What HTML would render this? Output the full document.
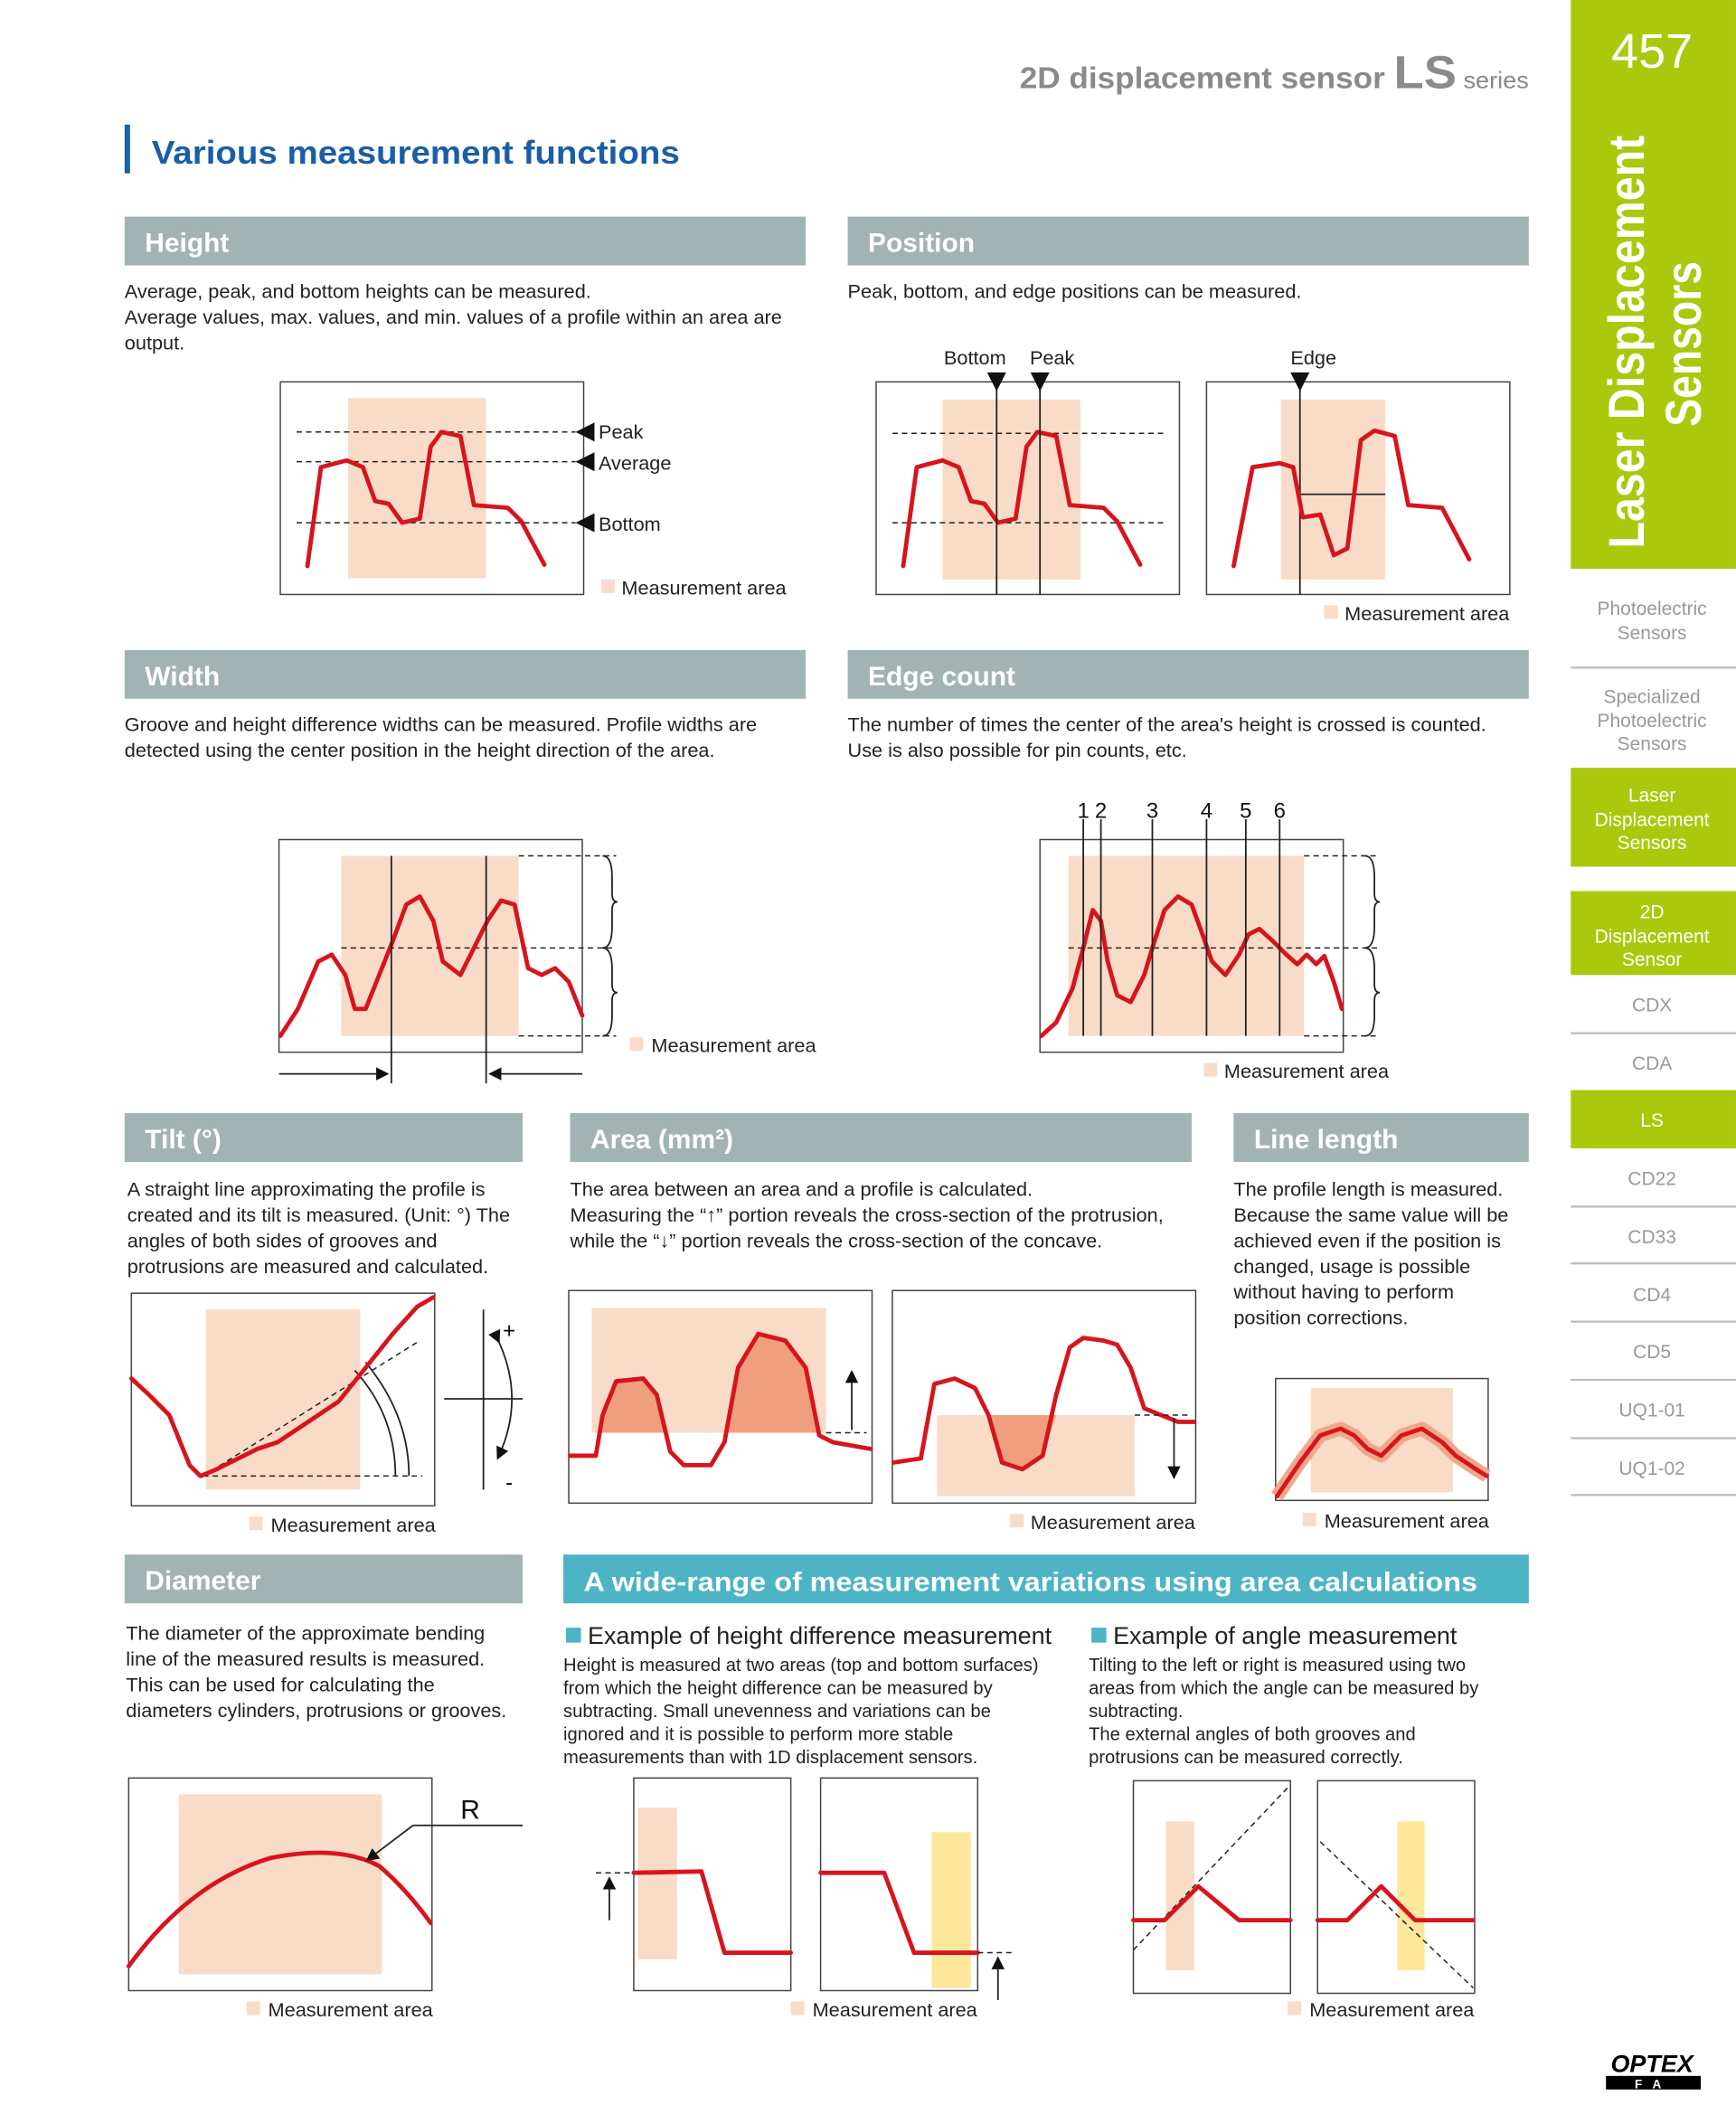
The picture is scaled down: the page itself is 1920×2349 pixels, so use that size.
<!DOCTYPE html>
<html><head><meta charset="utf-8"><style>
html,body{margin:0;padding:0;background:#fff;}
svg{display:block;font-family:"Liberation Sans",Arial,sans-serif;}
.h{fill:#fff;font-weight:bold;font-size:20px;}
.d{fill:#222;font-size:14.5px;}
.s{fill:#222;font-size:13.5px;}
.lg{fill:#222;font-size:14.5px;}
.c{fill:none;stroke:#d7141e;stroke-width:3.2;stroke-linejoin:round;stroke-linecap:round;}
.b{fill:#fff;stroke:#444;stroke-width:1;}
.p{fill:#f9dcc8;}
.y{fill:#fde79a;}
.dl{stroke:#222;stroke-width:1;stroke-dasharray:4 3;fill:none;}
.l{stroke:#222;stroke-width:1.2;fill:none;}
.m{fill:#999;font-size:14px;text-anchor:middle;}
.sep{stroke:#bbb;stroke-width:1.5;}
</style></head><body>
<svg width="1920" height="2349" viewBox="0 0 1282 1568.5" xmlns="http://www.w3.org/2000/svg">
<defs><marker id="ah" markerWidth="8" markerHeight="8" refX="6" refY="4" orient="auto"><path d="M0,0 L8,4 L0,8z" fill="#111"/></marker></defs>
<!-- header -->
<text x="753" y="65" textLength="376" lengthAdjust="spacingAndGlyphs" fill="#8a8a8a" font-weight="bold" font-size="22">2D displacement sensor <tspan font-size="34">LS</tspan><tspan font-size="17" font-weight="normal"> series</tspan></text>
<rect x="92" y="92" width="4" height="36" fill="#1a5ea8"/>
<text x="112" y="121" textLength="390" lengthAdjust="spacingAndGlyphs" fill="#1a5ea8" font-weight="bold" font-size="24">Various measurement functions</text>

<!-- sidebar -->
<rect x="1160" y="0" width="122" height="420" fill="#acc80c"/>
<text x="1220" y="50" text-anchor="middle" fill="#fff" font-size="36">457</text>
<text transform="translate(1214,405) rotate(-90)" textLength="305" lengthAdjust="spacingAndGlyphs" fill="#fff" font-weight="bold" font-size="37">Laser Displacement</text>
<text transform="translate(1256,315) rotate(-90)" textLength="122" lengthAdjust="spacingAndGlyphs" fill="#fff" font-weight="bold" font-size="37">Sensors</text>
<text class="m" x="1220" y="454">Photoelectric</text><text class="m" x="1220" y="472">Sensors</text>
<line class="sep" x1="1160" y1="493" x2="1282" y2="493"/>
<text class="m" x="1220" y="519">Specialized</text><text class="m" x="1220" y="537">Photoelectric</text><text class="m" x="1220" y="554">Sensors</text>
<rect x="1160" y="567" width="122" height="73" fill="#acc80c"/>
<text class="m" x="1220" y="592" style="fill:#fff">Laser</text><text class="m" x="1220" y="610" style="fill:#fff">Displacement</text><text class="m" x="1220" y="627" style="fill:#fff">Sensors</text>
<rect x="1160" y="658" width="122" height="62" fill="#acc80c"/>
<text class="m" x="1220" y="678" style="fill:#fff">2D</text><text class="m" x="1220" y="696" style="fill:#fff">Displacement</text><text class="m" x="1220" y="713" style="fill:#fff">Sensor</text>
<text class="m" x="1220" y="747">CDX</text><line class="sep" x1="1160" y1="763" x2="1282" y2="763"/>
<text class="m" x="1220" y="790">CDA</text>
<rect x="1160" y="805" width="122" height="43" fill="#acc80c"/><text class="m" x="1220" y="832" style="fill:#fff">LS</text>
<text class="m" x="1220" y="875">CD22</text><line class="sep" x1="1160" y1="891" x2="1282" y2="891"/>
<text class="m" x="1220" y="918">CD33</text><line class="sep" x1="1160" y1="933" x2="1282" y2="933"/>
<text class="m" x="1220" y="961">CD4</text><line class="sep" x1="1160" y1="976" x2="1282" y2="976"/>
<text class="m" x="1220" y="1003">CD5</text><line class="sep" x1="1160" y1="1019" x2="1282" y2="1019"/>
<text class="m" x="1220" y="1046">UQ1-01</text><line class="sep" x1="1160" y1="1062" x2="1282" y2="1062"/>
<text class="m" x="1220" y="1089">UQ1-02</text><line class="sep" x1="1160" y1="1104" x2="1282" y2="1104"/>

<!-- section headers -->
<g fill="#a1b4b3">
<rect x="92" y="160" width="503" height="36"/><rect x="626" y="160" width="503" height="36"/>
<rect x="92" y="480" width="503" height="36"/><rect x="626" y="480" width="503" height="36"/>
<rect x="92" y="822" width="294" height="36"/><rect x="421" y="822" width="459" height="36"/><rect x="911" y="822" width="218" height="36"/>
<rect x="92" y="1148" width="294" height="36"/>
</g>
<rect x="416" y="1148" width="713" height="36" fill="#4cb4c4"/>
<text class="h" x="107" y="186">Height</text><text class="h" x="641" y="186">Position</text>
<text class="h" x="107" y="506">Width</text><text class="h" x="641" y="506">Edge count</text>
<text class="h" x="107" y="848">Tilt (°)</text><text class="h" x="436" y="848">Area (mm²)</text><text class="h" x="926" y="848">Line length</text>
<text class="h" x="107" y="1174">Diameter</text><text class="h" x="431" y="1175" textLength="660" lengthAdjust="spacingAndGlyphs">A wide-range of measurement variations using area calculations</text>

<!-- descriptions -->
<text class="d" x="92" y="220">Average, peak, and bottom heights can be measured.</text>
<text class="d" x="92" y="239">Average values, max. values, and min. values of a profile within an area are</text>
<text class="d" x="92" y="258">output.</text>
<text class="d" x="626" y="220">Peak, bottom, and edge positions can be measured.</text>
<text class="d" x="92" y="540">Groove and height difference widths can be measured. Profile widths are</text>
<text class="d" x="92" y="559">detected using the center position in the height direction of the area.</text>
<text class="d" x="626" y="540">The number of times the center of the area's height is crossed is counted.</text>
<text class="d" x="626" y="559">Use is also possible for pin counts, etc.</text>
<text class="d" x="94" y="883">A straight line approximating the profile is</text>
<text class="d" x="94" y="902">created and its tilt is measured. (Unit: °) The</text>
<text class="d" x="94" y="921">angles of both sides of grooves and</text>
<text class="d" x="94" y="940">protrusions are measured and calculated.</text>
<text class="d" x="421" y="883">The area between an area and a profile is calculated.</text>
<text class="d" x="421" y="902">Measuring the “↑” portion reveals the cross-section of the protrusion,</text>
<text class="d" x="421" y="921">while the “↓” portion reveals the cross-section of the concave.</text>
<text class="d" x="911" y="883">The profile length is measured.</text>
<text class="d" x="911" y="902">Because the same value will be</text>
<text class="d" x="911" y="921">achieved even if the position is</text>
<text class="d" x="911" y="940">changed, usage is possible</text>
<text class="d" x="911" y="959">without having to perform</text>
<text class="d" x="911" y="978">position corrections.</text>
<text class="d" x="93" y="1211">The diameter of the approximate bending</text>
<text class="d" x="93" y="1230">line of the measured results is measured.</text>
<text class="d" x="93" y="1249">This can be used for calculating the</text>
<text class="d" x="93" y="1268">diameters cylinders, protrusions or grooves.</text>
<rect x="418" y="1202" width="11" height="11" fill="#4cb4c4"/>
<text x="434" y="1214" font-size="18" fill="#222">Example of height difference measurement</text>
<text class="s" x="416" y="1234">Height is measured at two areas (top and bottom surfaces)</text>
<text class="s" x="416" y="1251">from which the height difference can be measured by</text>
<text class="s" x="416" y="1268">subtracting. Small unevenness and variations can be</text>
<text class="s" x="416" y="1285">ignored and it is possible to perform more stable</text>
<text class="s" x="416" y="1302">measurements than with 1D displacement sensors.</text>
<rect x="806" y="1202" width="11" height="11" fill="#4cb4c4"/>
<text x="822" y="1214" font-size="18" fill="#222">Example of angle measurement</text>
<text class="s" x="804" y="1234">Tilting to the left or right is measured using two</text>
<text class="s" x="804" y="1251">areas from which the angle can be measured by</text>
<text class="s" x="804" y="1268">subtracting.</text>
<text class="s" x="804" y="1285">The external angles of both grooves and</text>
<text class="s" x="804" y="1302">protrusions can be measured correctly.</text>

<!-- Height chart -->
<rect class="b" x="207" y="282" width="224" height="157"/>
<rect class="p" x="257" y="294" width="102" height="133"/>
<line class="dl" x1="219" y1="319" x2="425" y2="319"/><line class="dl" x1="219" y1="341" x2="425" y2="341"/><line class="dl" x1="219" y1="386" x2="425" y2="386"/>
<path d="M425,319 L439,312 L439,326z M425,341 L439,334 L439,348z M425,386 L439,379 L439,393z" fill="#111"/>
<text class="lg" x="442" y="324">Peak</text><text class="lg" x="442" y="347">Average</text><text class="lg" x="442" y="392">Bottom</text>
<polyline class="c" points="227,418 237,345 256,340 268,345 277,370 287,372 297,386 310,383 318,330 326,319 340,322 350,373 375,375 385,385 402,417"/>
<rect class="p" x="444" y="428" width="10" height="10"/><text class="lg" x="459" y="439">Measurement area</text>

<!-- Position charts -->
<rect class="b" x="647" y="282" width="224" height="157"/>
<rect class="p" x="696" y="295" width="102" height="133"/>
<line class="dl" x1="659" y1="320" x2="859" y2="320"/><line class="dl" x1="659" y1="386" x2="859" y2="386"/>
<polyline class="c" points="667,418 677,345 696,340 708,345 717,370 727,372 737,386 750,383 758,330 766,319 780,322 790,373 815,375 825,385 842,417"/>
<line class="l" x1="736" y1="275" x2="736" y2="439"/><line class="l" x1="768" y1="275" x2="768" y2="439"/>
<path d="M729,275 L743,275 L736,289z M761,275 L775,275 L768,289z" fill="#111"/>
<text class="lg" x="720" y="269" text-anchor="middle">Bottom</text><text class="lg" x="777" y="269" text-anchor="middle">Peak</text>
<rect class="b" x="891" y="282" width="224" height="157"/>
<rect class="p" x="946" y="295" width="77" height="133"/>
<line class="l" x1="960" y1="275" x2="960" y2="439"/><line class="l" x1="960" y1="365" x2="1023" y2="365"/>
<path d="M953,275 L967,275 L960,289z" fill="#111"/>
<text class="lg" x="970" y="269" text-anchor="middle">Edge</text>
<polyline class="c" points="911,418 925,345 945,342 955,345 962,382 975,380 985,410 995,405 1005,325 1015,318 1030,322 1040,373 1065,375 1085,413"/>
<rect class="p" x="978" y="447" width="10" height="10"/><text class="lg" x="993" y="458">Measurement area</text>

<!-- Width chart -->
<rect class="b" x="206" y="620" width="224" height="157"/>
<rect class="p" x="252" y="632" width="131" height="133"/>
<line class="dl" x1="383" y1="632" x2="455" y2="632"/><line class="dl" x1="252" y1="700" x2="455" y2="700"/><line class="dl" x1="383" y1="765" x2="455" y2="765"/>
<path d="M445,632 Q452,632 452,648 L452,660 Q452,666 456,666 Q452,666 452,672 L452,684 Q452,700 445,700 M445,700 Q452,700 452,716 L452,727 Q452,733 456,733 Q452,733 452,739 L452,750 Q452,765 445,765" class="l"/>
<polyline class="c" points="207,765 220,745 235,710 245,705 255,720 262,745 270,745 280,720 290,695 300,668 310,662 320,680 327,710 340,720 350,700 360,680 370,665 380,668 390,715 400,720 410,715 420,725 430,750"/>
<line class="l" x1="289" y1="632" x2="289" y2="800"/><line class="l" x1="359" y1="632" x2="359" y2="800"/>
<line class="l" x1="206" y1="793" x2="285" y2="793" marker-end="url(#ah)" stroke-width="1.8"/>
<line class="l" x1="430" y1="793" x2="363" y2="793" marker-end="url(#ah)" stroke-width="1.8"/>
<rect class="p" x="465" y="766" width="10" height="10"/><text class="lg" x="481" y="777">Measurement area</text>

<!-- Edge count chart -->
<rect class="b" x="768" y="620" width="224" height="157"/>
<rect class="p" x="789" y="632" width="174" height="133"/>
<line class="dl" x1="963" y1="632" x2="1017" y2="632"/><line class="dl" x1="789" y1="700" x2="1017" y2="700"/><line class="dl" x1="963" y1="765" x2="1017" y2="765"/>
<path d="M1008,632 Q1015,632 1015,648 L1015,660 Q1015,666 1019,666 Q1015,666 1015,672 L1015,684 Q1015,700 1008,700 M1008,700 Q1015,700 1015,716 L1015,727 Q1015,733 1019,733 Q1015,733 1015,739 L1015,750 Q1015,765 1008,765" class="l"/>
<polyline class="c" points="769,765 780,755 792,730 800,700 807,672 813,680 818,710 825,735 835,740 845,720 851,700 860,672 870,662 880,668 888,690 895,710 905,720 915,705 922,690 930,686 940,695 950,705 958,712 965,705 972,712 978,706 985,725 991,745"/>
<g class="l"><line x1="800" y1="605" x2="800" y2="765"/><line x1="813" y1="605" x2="813" y2="765"/><line x1="851" y1="605" x2="851" y2="765"/><line x1="891" y1="605" x2="891" y2="765"/><line x1="920" y1="605" x2="920" y2="765"/><line x1="945" y1="605" x2="945" y2="765"/></g>
<g font-size="16" fill="#111" text-anchor="middle"><text x="800" y="604">1</text><text x="813" y="604">2</text><text x="851" y="604">3</text><text x="891" y="604">4</text><text x="920" y="604">5</text><text x="945" y="604">6</text></g>
<rect class="p" x="889" y="785" width="10" height="10"/><text class="lg" x="904" y="796">Measurement area</text>

<!-- Tilt chart -->
<rect class="b" x="97" y="955" width="224" height="157"/>
<rect class="p" x="152" y="967" width="114" height="133"/>
<line class="dl" x1="150" y1="1090" x2="312" y2="1090"/><line class="dl" x1="150" y1="1090" x2="310" y2="990"/>
<path d="M262,1012 Q292,1045 292,1090 M270,1006 Q302,1045 302,1090" class="l"/>
<polyline class="c" points="97,1018 110,1030 125,1045 140,1082 148,1090 160,1085 190,1070 205,1065 220,1055 250,1035 270,1010 290,985 308,965 320,958"/>
<line class="l" x1="328" y1="1033" x2="386" y2="1033"/><line class="l" x1="357" y1="967" x2="357" y2="1100"/>
<path d="M368,990 Q388,1033 368,1076" class="l" marker-start="url(#ah)" marker-end="url(#ah)"/>
<text x="376" y="988" font-size="16" text-anchor="middle">+</text><text x="376" y="1100" font-size="16" text-anchor="middle">-</text>
<rect class="p" x="184" y="1120" width="10" height="10"/><text class="lg" x="200" y="1131">Measurement area</text>

<!-- Area charts -->
<rect class="b" x="420" y="953" width="224" height="157"/>
<rect class="p" x="437" y="966" width="173" height="92"/>
<path d="M442,1058 L445,1045 455,1020 475,1018 485,1030 492,1058z M538,1058 L545,1010 560,985 580,990 595,1010 603,1058z" fill="#ef9f7e"/>
<polyline class="c" points="421,1075 440,1075 445,1045 455,1020 475,1018 485,1030 495,1072 505,1082 525,1082 535,1065 545,1010 560,985 580,990 595,1010 605,1060 615,1065 643,1070"/>
<line class="dl" x1="610" y1="1058" x2="640" y2="1058"/>
<line class="l" x1="629" y1="1056" x2="629" y2="1014" marker-end="url(#ah)" stroke-width="1.8"/>
<rect class="b" x="659" y="953" width="224" height="157"/>
<rect class="p" x="692" y="1045" width="146" height="60"/>
<path d="M729,1045 L730,1045 740,1080 755,1085 770,1075 780,1045z" fill="#ef9f7e"/>
<polyline class="c" points="660,1080 680,1077 690,1022 705,1018 720,1025 730,1045 740,1080 755,1085 770,1075 780,1030 790,995 800,988 815,990 825,993 835,1010 845,1040 870,1050 882,1050"/>
<line class="dl" x1="838" y1="1045" x2="880" y2="1045"/>
<line class="l" x1="867" y1="1047" x2="867" y2="1090" marker-end="url(#ah)" stroke-width="1.8"/>
<rect class="p" x="746" y="1118" width="10" height="10"/><text class="lg" x="761" y="1129">Measurement area</text>

<!-- Line length -->
<rect class="b" x="942" y="1018" width="157" height="90"/>
<rect class="p" x="968" y="1025" width="105" height="77"/>
<polyline points="943,1105 960,1080 975,1060 990,1055 1000,1060 1010,1070 1020,1075 1035,1060 1050,1055 1065,1065 1075,1075 1090,1085 1098,1090" fill="none" stroke="#f0a88a" stroke-width="10" stroke-linejoin="round"/>
<polyline class="c" points="943,1105 960,1080 975,1060 990,1055 1000,1060 1010,1070 1020,1075 1035,1060 1050,1055 1065,1065 1075,1075 1090,1085 1098,1090"/>
<rect class="p" x="962" y="1117" width="10" height="10"/><text class="lg" x="978" y="1128">Measurement area</text>

<!-- Diameter -->
<rect class="b" x="95" y="1313" width="224" height="157"/>
<rect class="p" x="132" y="1325" width="150" height="133"/>
<path class="c" d="M95,1452 Q140,1390 200,1372 Q250,1362 280,1378 Q300,1395 318,1420"/>
<line class="l" x1="386" y1="1348" x2="305" y2="1348"/><line class="l" x1="305" y1="1348" x2="272" y2="1373" marker-end="url(#ah)"/>
<text x="340" y="1343" font-size="20" fill="#111">R</text>
<rect class="p" x="182" y="1478" width="10" height="10"/><text class="lg" x="198" y="1489">Measurement area</text>

<!-- Height difference -->
<rect class="b" x="468" y="1313" width="116" height="157"/>
<rect class="p" x="471" y="1335" width="29" height="112"/>
<polyline class="c" points="468,1383 518,1382 535,1442 584,1442"/>
<line class="dl" x1="440" y1="1383" x2="468" y2="1383"/>
<line class="l" x1="450" y1="1418" x2="450" y2="1388" marker-end="url(#ah)" stroke-width="1.8"/>
<rect class="b" x="606" y="1313" width="116" height="157"/>
<rect class="y" x="688" y="1353" width="29" height="115"/>
<polyline class="c" points="606,1383 653,1383 675,1442 722,1442"/>
<line class="dl" x1="722" y1="1442" x2="750" y2="1442"/>
<line class="l" x1="737" y1="1477" x2="737" y2="1447" marker-end="url(#ah)" stroke-width="1.8"/>
<rect class="p" x="584" y="1478" width="10" height="10"/><text class="lg" x="600" y="1489">Measurement area</text>

<!-- Angle -->
<rect class="b" x="837" y="1315" width="116" height="157"/>
<rect class="p" x="861" y="1345" width="21" height="110"/>
<line class="dl" x1="837" y1="1440" x2="953" y2="1318"/>
<polyline class="c" points="837,1418 860,1418 885,1393 915,1418 953,1418"/>
<rect class="b" x="973" y="1315" width="116" height="157"/>
<rect class="y" x="1032" y="1345" width="20" height="110"/>
<line class="dl" x1="975" y1="1360" x2="1088" y2="1468"/>
<polyline class="c" points="973,1418 995,1418 1020,1393 1045,1418 1088,1418"/>
<rect class="p" x="951" y="1478" width="10" height="10"/><text class="lg" x="967" y="1489">Measurement area</text>

<!-- logo -->
<text x="1220" y="1530" text-anchor="middle" font-weight="bold" font-size="18" fill="#000" font-style="italic">OPTEX</text>
<rect x="1186" y="1533" width="70" height="10" fill="#000"/>
<text x="1221" y="1542" text-anchor="middle" font-weight="bold" font-size="9" fill="#fff" letter-spacing="8">FA</text>
</svg>
</body></html>
